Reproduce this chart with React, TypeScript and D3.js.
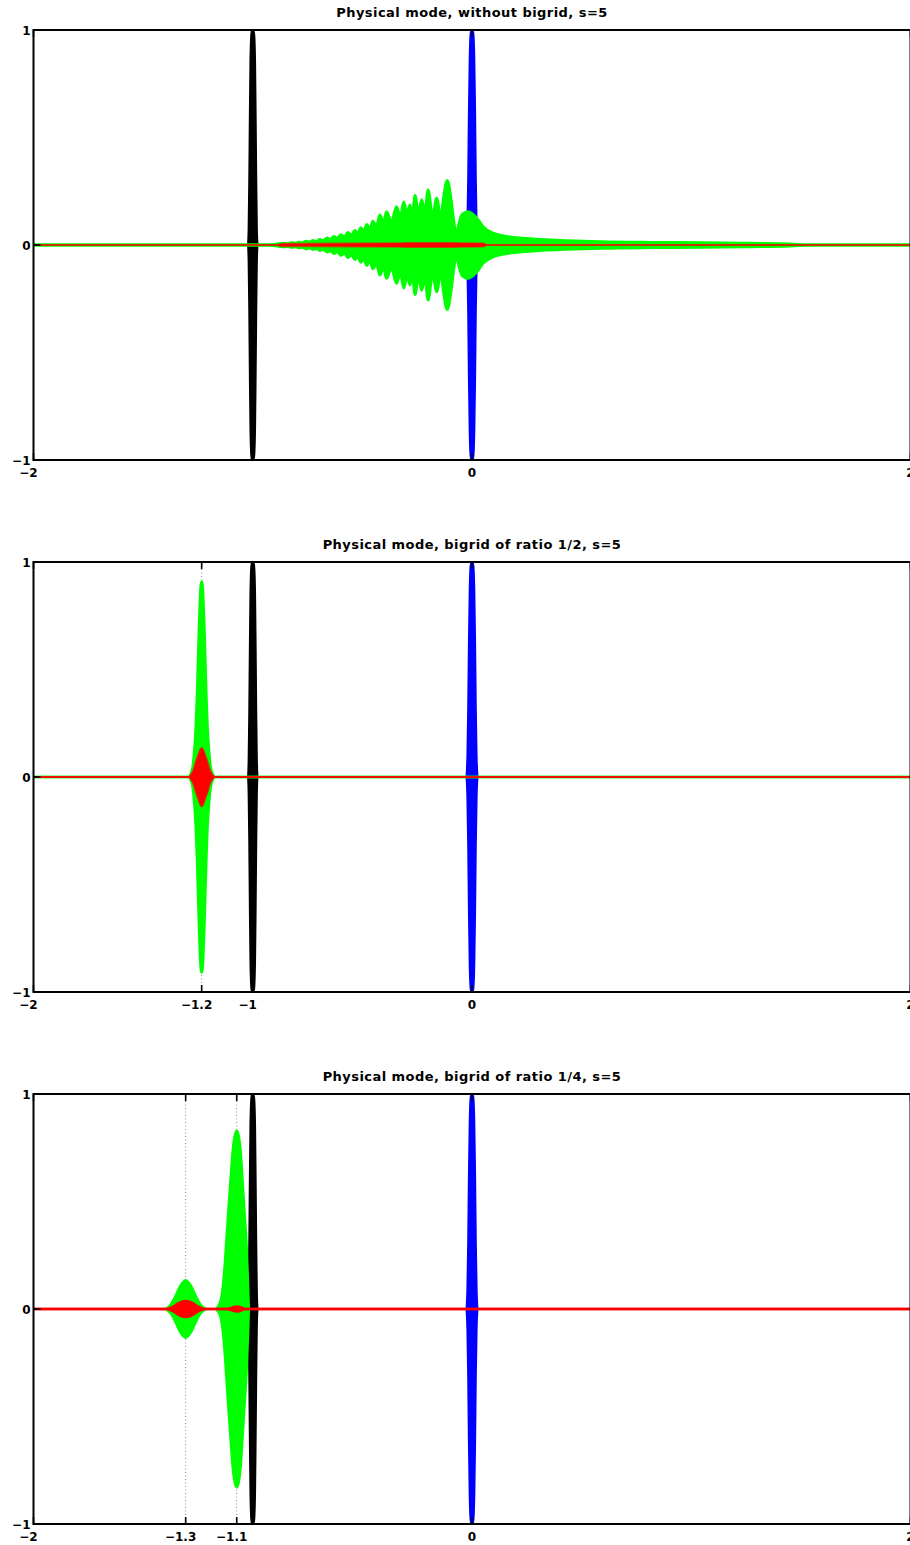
import React from 'react';
import * as d3 from 'd3';

type Pt = [number, number];

// Panel titles and axis ticks
const panelTitles = [
  'Physical mode, without bigrid, s=5',
  'Physical mode, bigrid of ratio 1/2, s=5',
  'Physical mode, bigrid of ratio 1/4, s=5',
];
const xTickValues = [
  [-2, 0, 2],
  [-2, -1.233, -1, 0, 2],
  [-2, -1.306, -1.073, 0, 2],
];
const xTickLabels = [
  ['−2', '0', '2'],
  ['−2', '−1.2', '−1', '0', '2'],
  ['−2', '−1.3', '−1.1', '0', '2'],
];
const guideX = [[], [-1.233], [-1.306, -1.073]];
const yTickValues = [-1, 0, 1];
const yTickLabels = ['−1', '0', '1'];

// Envelopes of the oscillating packets: [x, amplitude]
const blackPacket: Pt[] = [
  [-1.0201, 0], [-1.0174, 0.08], [-1.0146, 0.3], [-1.0119, 0.6], [-1.0091, 0.86],
  [-1.0046, 0.985], [-1.0, 1.0], [-0.9954, 0.985], [-0.9909, 0.86], [-0.9881, 0.6],
  [-0.9854, 0.3], [-0.9826, 0.08], [-0.9799, 0],
];
const bluePacket: Pt[] = [
  [-0.0237, 0], [-0.0196, 0.1], [-0.016, 0.32], [-0.0128, 0.62], [-0.0091, 0.87],
  [-0.0046, 0.985], [0, 1.0], [0.0046, 0.985], [0.0091, 0.87], [0.0128, 0.62],
  [0.016, 0.32], [0.0196, 0.1], [0.0237, 0],
];

const greenNoBigrid: Pt[] = [
  [-2, 0], [-0.932, 0], [-0.895, 0.004], [-0.854, 0.008], [-0.838, 0.006],
  [-0.822, 0.01], [-0.806, 0.008], [-0.79, 0.013], [-0.774, 0.01], [-0.758, 0.017],
  [-0.742, 0.013], [-0.726, 0.021], [-0.71, 0.016], [-0.694, 0.026], [-0.678, 0.02],
  [-0.662, 0.032], [-0.646, 0.025], [-0.63, 0.04], [-0.614, 0.031], [-0.598, 0.048],
  [-0.582, 0.037], [-0.566, 0.058], [-0.55, 0.045], [-0.534, 0.068], [-0.52, 0.052],
  [-0.507, 0.08], [-0.493, 0.062], [-0.48, 0.095], [-0.466, 0.072], [-0.452, 0.11],
  [-0.436, 0.085], [-0.42, 0.14], [-0.404, 0.1], [-0.39, 0.155], [-0.368, 0.105],
  [-0.344, 0.178], [-0.327, 0.125], [-0.311, 0.2], [-0.297, 0.14], [-0.283, 0.186],
  [-0.272, 0.13], [-0.26, 0.23], [-0.244, 0.14], [-0.23, 0.21], [-0.215, 0.15],
  [-0.2, 0.256], [-0.18, 0.13], [-0.161, 0.217], [-0.142, 0.12], [-0.132, 0.2],
  [-0.113, 0.3], [-0.094, 0.2], [-0.082, 0.1], [-0.07, 0.05], [-0.059, 0.1],
  [-0.046, 0.14], [-0.018, 0.155], [0.022, 0.125], [0.05, 0.085], [0.096, 0.055],
  [0.174, 0.037], [0.279, 0.028], [0.434, 0.02], [0.585, 0.015], [0.813, 0.012],
  [1.041, 0.011], [1.269, 0.008], [1.452, 0.005], [1.543, 0], [2, 0],
];
const redNoBigrid: Pt[] = [
  [-2, 0], [-0.89, 0], [-0.87, 0.006], [-0.6, 0.007], [-0.33, 0.009],
  [-0.25, 0.01], [-0.15, 0.01], [-0.05, 0.009], [0.05, 0.008], [0.07, 0], [2, 0],
];

const greenHalf: Pt[] = [
  [-2, 0], [-1.2924, 0], [-1.2832, 0.015], [-1.2741, 0.05], [-1.2672, 0.12],
  [-1.2604, 0.23], [-1.2558, 0.35], [-1.2513, 0.5], [-1.2467, 0.66], [-1.2421, 0.8],
  [-1.2376, 0.89], [-1.233, 0.91], [-1.2284, 0.89], [-1.2239, 0.8], [-1.2193, 0.66],
  [-1.2147, 0.5], [-1.2102, 0.35], [-1.2056, 0.23], [-1.1988, 0.12], [-1.1919, 0.05],
  [-1.1828, 0.015], [-1.1736, 0], [2, 0],
];
const redHalf: Pt[] = [
  [-2, 0], [-1.2924, 0], [-1.2832, 0.008], [-1.2741, 0.022], [-1.2672, 0.04],
  [-1.2604, 0.065], [-1.2535, 0.085], [-1.2467, 0.105], [-1.2398, 0.125], [-1.233, 0.135],
  [-1.2262, 0.125], [-1.2193, 0.105], [-1.2125, 0.085], [-1.2056, 0.065], [-1.1988, 0.04],
  [-1.1919, 0.022], [-1.1828, 0.008], [-1.1736, 0], [2, 0],
];

const greenQuarter: Pt[] = [
  [-2, 0], [-1.4019, 0], [-1.3882, 0.008], [-1.3745, 0.022], [-1.3608, 0.045],
  [-1.3471, 0.075], [-1.3334, 0.105], [-1.3197, 0.125], [-1.306, 0.135], [-1.2923, 0.125],
  [-1.2786, 0.105], [-1.2649, 0.075], [-1.2512, 0.045], [-1.2375, 0.022], [-1.2238, 0.008],
  [-1.2101, 0], [-1.1689, 0], [-1.1598, 0.012], [-1.1461, 0.045], [-1.1369, 0.11],
  [-1.1278, 0.22], [-1.1187, 0.36], [-1.1095, 0.5], [-1.1004, 0.63], [-1.0913, 0.75],
  [-1.0821, 0.81], [-1.073, 0.83], [-1.0639, 0.81], [-1.0547, 0.74], [-1.0456, 0.6],
  [-1.0365, 0.45], [-1.0273, 0.3], [-1.0205, 0.12], [-1.0159, 0], [2, 0],
];
const redQuarter: Pt[] = [
  [-2, 0], [-1.3928, 0], [-1.3791, 0.004], [-1.3608, 0.013], [-1.3425, 0.025],
  [-1.3243, 0.034], [-1.306, 0.037], [-1.2877, 0.034], [-1.2695, 0.025], [-1.2512, 0.013],
  [-1.2329, 0.004], [-1.2192, 0], [-1.12, 0], [-1.096, 0.006], [-1.073, 0.012],
  [-1.05, 0.006], [-1.03, 0], [2, 0],
];

const panels = [
  { green: greenNoBigrid, red: redNoBigrid, greenWidth: 3, redWidth: 1.8, redLineOpacity: 0.55 },
  { green: greenHalf, red: redHalf, greenWidth: 2.4, redWidth: 2.2, redLineOpacity: 0.75 },
  { green: greenQuarter, red: redQuarter, greenWidth: 2, redWidth: 2.4, redLineOpacity: 1 },
];

const FONT = '"DejaVu Sans", Verdana, sans-serif';
const TICK_FONT_SIZE = 12;
const TITLE_FONT_SIZE = 13;
const MINUS_HALF = 0.838 * TICK_FONT_SIZE * 0.5;
const PLOT_LEFT = 33.5;
const PLOT_RIGHT = 910.5;
const FIRST_TOP = 30;
const PLOT_H = 430;
const PANEL_STEP = 532;
const TICK_LEN = 7;

const x = d3.scaleLinear().domain([-2, 2]).range([PLOT_LEFT, PLOT_RIGHT]);

function Panel({ index }: { index: number }) {
  const top = FIRST_TOP + index * PANEL_STEP;
  const bottom = top + PLOT_H;
  const y = d3.scaleLinear().domain([-1, 1]).range([bottom, top]);
  const cfg = panels[index];
  const clipId = `plot-clip-${index}`;

  const area = d3
    .area<Pt>()
    .x((d) => x(d[0]))
    .y0((d) => y(-d[1]))
    .y1((d) => y(d[1]))
    .curve(d3.curveMonotoneX);
  const upper = d3
    .line<Pt>()
    .x((d) => x(d[0]))
    .y((d) => y(d[1]))
    .curve(d3.curveMonotoneX);
  const lower = d3
    .line<Pt>()
    .x((d) => x(d[0]))
    .y((d) => y(-d[1]))
    .curve(d3.curveMonotoneX);

  const packet = (data: Pt[], color: string, width: number, lineOpacity = 1) => (
    <g>
      <path d={area(data) || ''} fill={color} stroke="none" />
      <path
        d={upper(data) || ''}
        fill="none"
        stroke={color}
        strokeWidth={width}
        strokeOpacity={lineOpacity}
        strokeLinejoin="round"
      />
      <path
        d={lower(data) || ''}
        fill="none"
        stroke={color}
        strokeWidth={width}
        strokeOpacity={lineOpacity}
        strokeLinejoin="round"
      />
    </g>
  );

  return (
    <g>
      <defs>
        <clipPath id={clipId}>
          <rect x={PLOT_LEFT} y={top} width={PLOT_RIGHT - PLOT_LEFT} height={PLOT_H} />
        </clipPath>
      </defs>
      <text
        x={x(0)}
        y={top - 13}
        textAnchor="middle"
        fontFamily={FONT}
        fontWeight="bold"
        fontSize={TITLE_FONT_SIZE}
        letterSpacing={0.45}
      >
        {panelTitles[index]}
      </text>
      <g clipPath={`url(#${clipId})`}>
        {guideX[index].map((v) => (
          <line
            key={v}
            x1={x(v)}
            x2={x(v)}
            y1={top}
            y2={bottom}
            stroke="#888"
            strokeWidth={1}
            strokeDasharray="1 2.5"
          />
        ))}
        {packet(blackPacket, '#000000', 2.6)}
        {packet(bluePacket, '#0000ff', 2.6)}
        {packet(cfg.green, '#00ff00', cfg.greenWidth)}
        {packet(cfg.red, '#ff0000', cfg.redWidth, cfg.redLineOpacity)}
      </g>
      <rect
        x={PLOT_LEFT}
        y={top}
        width={PLOT_RIGHT - PLOT_LEFT}
        height={PLOT_H}
        fill="none"
        stroke="#000"
        strokeWidth={2}
      />
      {xTickValues[index].map((v, k) => {
        const label = xTickLabels[index][k];
        return (
          <g key={`xt${k}`}>
            <line x1={x(v)} x2={x(v)} y1={bottom} y2={bottom - TICK_LEN} stroke="#000" strokeWidth={1.6} />
            <line x1={x(v)} x2={x(v)} y1={top} y2={top + TICK_LEN} stroke="#000" strokeWidth={1.6} />
            <text
              x={x(v)}
              dx={label.startsWith('−') ? -MINUS_HALF : 0}
              y={bottom + 17}
              textAnchor="middle"
              fontFamily={FONT}
              fontWeight="bold"
              fontSize={TICK_FONT_SIZE}
            >
              {label}
            </text>
          </g>
        );
      })}
      {yTickValues.map((v, k) => (
        <g key={`yt${k}`}>
          <line x1={PLOT_LEFT} x2={PLOT_LEFT + TICK_LEN} y1={y(v)} y2={y(v)} stroke="#000" strokeWidth={1.6} />
          <text
            x={PLOT_LEFT - 3}
            y={y(v) + 5}
            textAnchor="end"
            fontFamily={FONT}
            fontWeight="bold"
            fontSize={TICK_FONT_SIZE}
          >
            {yTickLabels[k]}
          </text>
        </g>
      ))}
    </g>
  );
}

export default function App() {
  return (
    <div
      style={{
        position: 'absolute',
        left: 0,
        top: 0,
        width: 910,
        height: 1545,
        overflow: 'hidden',
        background: '#fff',
      }}
    >
      <svg width={930} height={1545} style={{ display: 'block' }}>
        <rect x={0} y={0} width={930} height={1545} fill="#fff" />
        {panelTitles.map((_, i) => (
          <Panel key={i} index={i} />
        ))}
      </svg>
    </div>
  );
}
